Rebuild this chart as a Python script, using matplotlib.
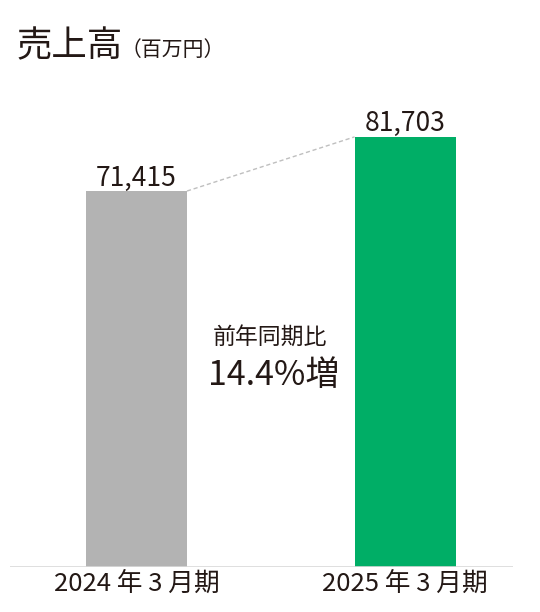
import matplotlib

matplotlib.use("Agg")
import matplotlib.pyplot as plt

plt.rcParams["font.family"] = ["Noto Sans CJK JP", "DejaVu Sans"]

IMAGE_DPI = 100.0
TEXT_COLOR = "#231815"

periods = ["2024 年 3 月期", "2025 年 3 月期"]
sales = [71415, 81703]
bar_colors = ["#b3b3b3", "#00ae66"]
growth_label = "前年同期比"
growth_value = "14.4%増"

fig = plt.figure(figsize=(540 / IMAGE_DPI, 612 / IMAGE_DPI), dpi=IMAGE_DPI)
ax = fig.add_axes([10 / 540, 1 - 567 / 612, 503 / 540, 473.8 / 612])

x = list(range(len(sales)))
width = 0.376
ax.bar(x, sales, width=width, color=bar_colors, zorder=2)

ax.set_xlim(-0.471, 1.402)
ax.set_ylim(0, 90000)

# 値ラベル
for xi, v in zip(x, sales):
    ax.annotate(
        f"{v:,}",
        xy=(xi, v),
        xytext=(0, 4),
        textcoords="offset points",
        ha="center",
        va="baseline",
        fontsize=19,
        color=TEXT_COLOR,
    )

# 棒の上端をつなぐ点線
ax.plot(
    [x[0] + width / 2, x[1] - width / 2],
    [sales[0], sales[1]],
    color="#bfbfbf",
    linewidth=1.0,
    dashes=(3, 2),
    zorder=1,
)

ax.axhline(0, color="#d9d9d9", linewidth=1.2, zorder=3)

for s in ax.spines.values():
    s.set_visible(False)
ax.set_yticks([])
ax.set_xticks(x)
ax.set_xticklabels(periods, fontsize=18.5, color=TEXT_COLOR)
ax.tick_params(axis="x", length=0, pad=3)

# タイトル
title = fig.text(17 / 540, 1 - 46 / 612, "売上高", fontsize=25.5, color=TEXT_COLOR, va="center", ha="left")
ax.annotate(
    "（百万円）",
    xy=(1, 0),
    xycoords=title,
    xytext=(-2, 2),
    textcoords="offset points",
    fontsize=15,
    color=TEXT_COLOR,
    va="bottom",
    ha="left",
)

fig.text(270 / 540, 1 - 337 / 612, growth_label, fontsize=16.5, color=TEXT_COLOR, ha="center", va="center")
fig.text(274 / 540, 1 - 376 / 612, growth_value, fontsize=24.5, color=TEXT_COLOR, ha="center", va="center")

fig.savefig("out.png", dpi=IMAGE_DPI, facecolor="white")
